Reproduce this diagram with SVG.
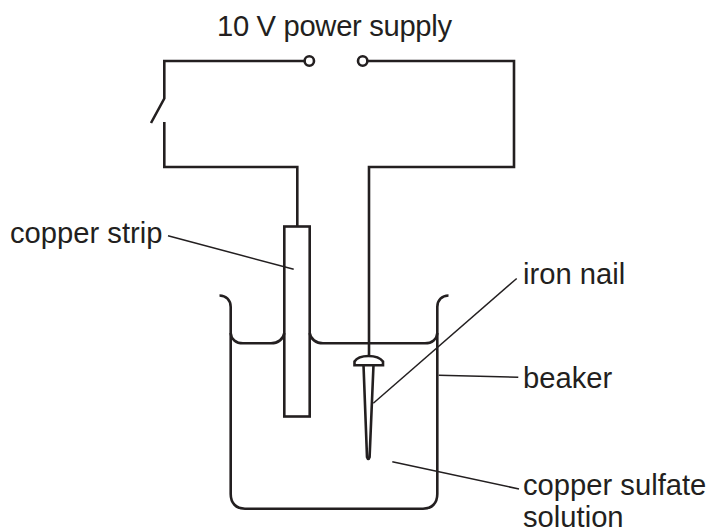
<svg xmlns="http://www.w3.org/2000/svg" width="710" height="532" viewBox="0 0 710 532">
<style>
text{font-family:"Liberation Sans",Arial,sans-serif;font-size:29.200px;fill:#231f20}
.w{fill:none;stroke:#231f20;stroke-width:2.600}
.t{fill:none;stroke:#231f20;stroke-width:1.500}
.n{fill:#fff;stroke:#231f20;stroke-width:2.600}
</style>
<rect width="710" height="532" fill="#fff"/>
<g id="connectors">
<path class="w" d="M304.300 61H164.300V98.500L151 123M164.300 122V167H297.300V226"/>
<path class="w" d="M368 61H514V167H369V356"/>
<path class="t" d="M168 235.700L293.700 269.300"/>
<path class="t" d="M373.300 403.300L516.700 278.500"/>
<path class="t" d="M438.700 375.300L518.300 377.300"/>
<path class="t" d="M392.300 461.700L519 489"/>
</g>
<g id="terminal-left"><circle class="n" cx="309.300" cy="61" r="4.700"/></g>
<g id="terminal-right"><circle class="n" cx="362.700" cy="61" r="4.700"/></g>
<g id="beaker"><path class="w" d="M219.500 295.500C226 295.500 230.700 300 230.700 307V494C230.700 503 236 508.700 245 508.700H423C432 508.700 437.300 503 437.300 494V307C437.300 300 442 295.500 448.500 295.500"/></g>
<g id="solution"><path class="w" d="M230.700 333C231 339 236 343.300 243 343.300H271C278 343.300 283.500 339 284.300 333M309.700 333C310.500 339 316 343.300 323 343.300H425C432 343.300 437 339 437.300 333"/></g>
<g id="copper-strip"><rect class="w" x="284.300" y="226.500" width="25.400" height="190"/></g>
<g id="iron-nail"><path class="w" d="M363.500 365L367 457Q368.300 461 369.600 457L373.500 365"/><path class="n" d="M354.500 365.300V361.500C357 357.500 362 356 368.500 356C375 356 380 357.500 383 361.500V365.300Z"/></g>
<g id="labels">
<text x="217" y="35.500" textLength="235" lengthAdjust="spacing">10 V power supply</text>
<text x="10" y="243">copper strip</text>
<text x="523" y="284">iron nail</text>
<text x="523" y="388">beaker</text>
<text x="523" y="495">copper sulfate</text>
<text x="523" y="527">solution</text>
</g>
</svg>
